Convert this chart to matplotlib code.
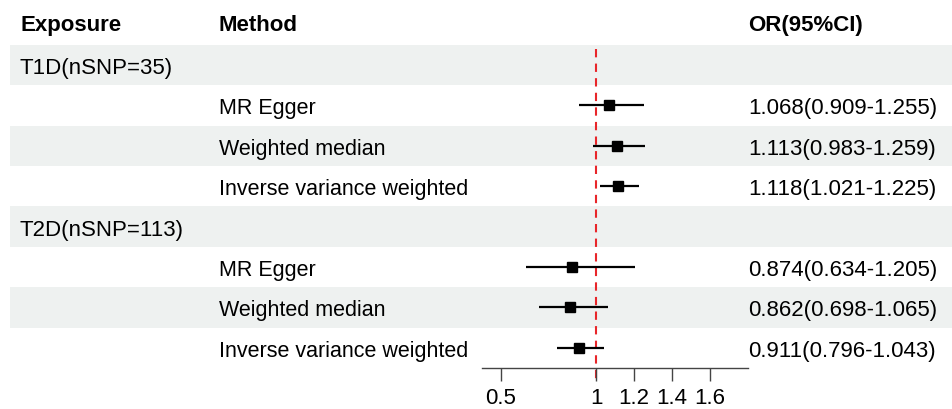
import matplotlib.pyplot as plt

plt.rcParams['font.family'] = ['Liberation Sans', 'DejaVu Sans']

# forest plot data
exposures = ["T1D(nSNP=35)", "T2D(nSNP=113)"]
methods = ["MR Egger", "Weighted median", "Inverse variance weighted"]
or_vals = [[1.068, 1.113, 1.118], [0.874, 0.862, 0.911]]
ci_low = [[0.909, 0.983, 1.021], [0.634, 0.698, 0.796]]
ci_high = [[1.255, 1.259, 1.225], [1.205, 1.065, 1.043]]
x_ticks = [0.5, 1, 1.2, 1.4, 1.6]
x_ticklabels = ["0.5", "1", "1.2", "1.4", "1.6"]

W, H = 952, 410
fig = plt.figure(figsize=(W / 100, H / 100), dpi=100)

# row r sits at pixel 66 + (r-1)*40.4 from the top
pitch = 40.4
def px_to_row(p):
    return 1 + (p - 66) / pitch

bg = fig.add_axes([0, 0, 1, 1])
bg.set_xlim(0, W)
bg.set_ylim(px_to_row(H), px_to_row(0))
bg.axis("off")

fs = 16
fs_meth = 15.5
band = "#eef1f0"
col_exp, col_meth, col_or = 20, 219, 748
va = "center_baseline"
bg.text(col_exp, px_to_row(23), "Exposure", fontsize=fs, fontweight="bold", va=va)
bg.text(col_meth, px_to_row(23), "Method", fontsize=fs, fontweight="bold", va=va)
bg.text(col_or, px_to_row(23), "OR(95%CI)", fontsize=fs, fontweight="bold", va=va)

row = 1
rows_y = []
for g, exp in enumerate(exposures):
    bg.axhspan(row - 0.5, row + 0.5, xmin=10 / W, xmax=1, color=band, lw=0, zorder=0)
    bg.text(col_exp, row, exp, fontsize=fs, va=va)
    row += 1
    for m, meth in enumerate(methods):
        if m == 1:
            bg.axhspan(row - 0.5, row + 0.5, xmin=10 / W, xmax=1, color=band, lw=0, zorder=0)
        bg.text(col_meth, row, meth, fontsize=fs_meth, va=va)
        label = "%.3f(%.3f-%.3f)" % (or_vals[g][m], ci_low[g][m], ci_high[g][m])
        bg.text(col_or, row, label, fontsize=fs, va=va)
        rows_y.append((row, or_vals[g][m], ci_low[g][m], ci_high[g][m]))
        row += 1

# forest panel
top_px, bot_px = 45, 369
ax = fig.add_axes([482 / W, 1 - bot_px / H, (748 - 482) / W, (bot_px - top_px) / H])
ax.patch.set_alpha(0)
ax.set_xlim(0.4, 1.8)
ax.set_ylim(px_to_row(bot_px), px_to_row(top_px))
for y, est, lo, hi in rows_y:
    ax.plot([lo, hi], [y, y], color="black", lw=1.6, solid_capstyle="butt")
    ax.plot(est, y, marker="s", color="black", markersize=7.5)

ax.plot([1, 1], [px_to_row(50), px_to_row(383)], color="#e8262a", lw=1.5,
        ls=(0, (4, 3)), clip_on=False, zorder=0)

for s in ["top", "right", "left"]:
    ax.spines[s].set_visible(False)
ax.spines["bottom"].set_color("#444444")
ax.spines["bottom"].set_linewidth(1)
ax.set_yticks([])
ax.set_xticks(x_ticks)
ax.set_xticklabels(x_ticklabels)
ax.tick_params(axis="x", length=9.5, width=1, color="#444444", labelsize=fs, pad=4)

plt.savefig("out.png", dpi=100)
